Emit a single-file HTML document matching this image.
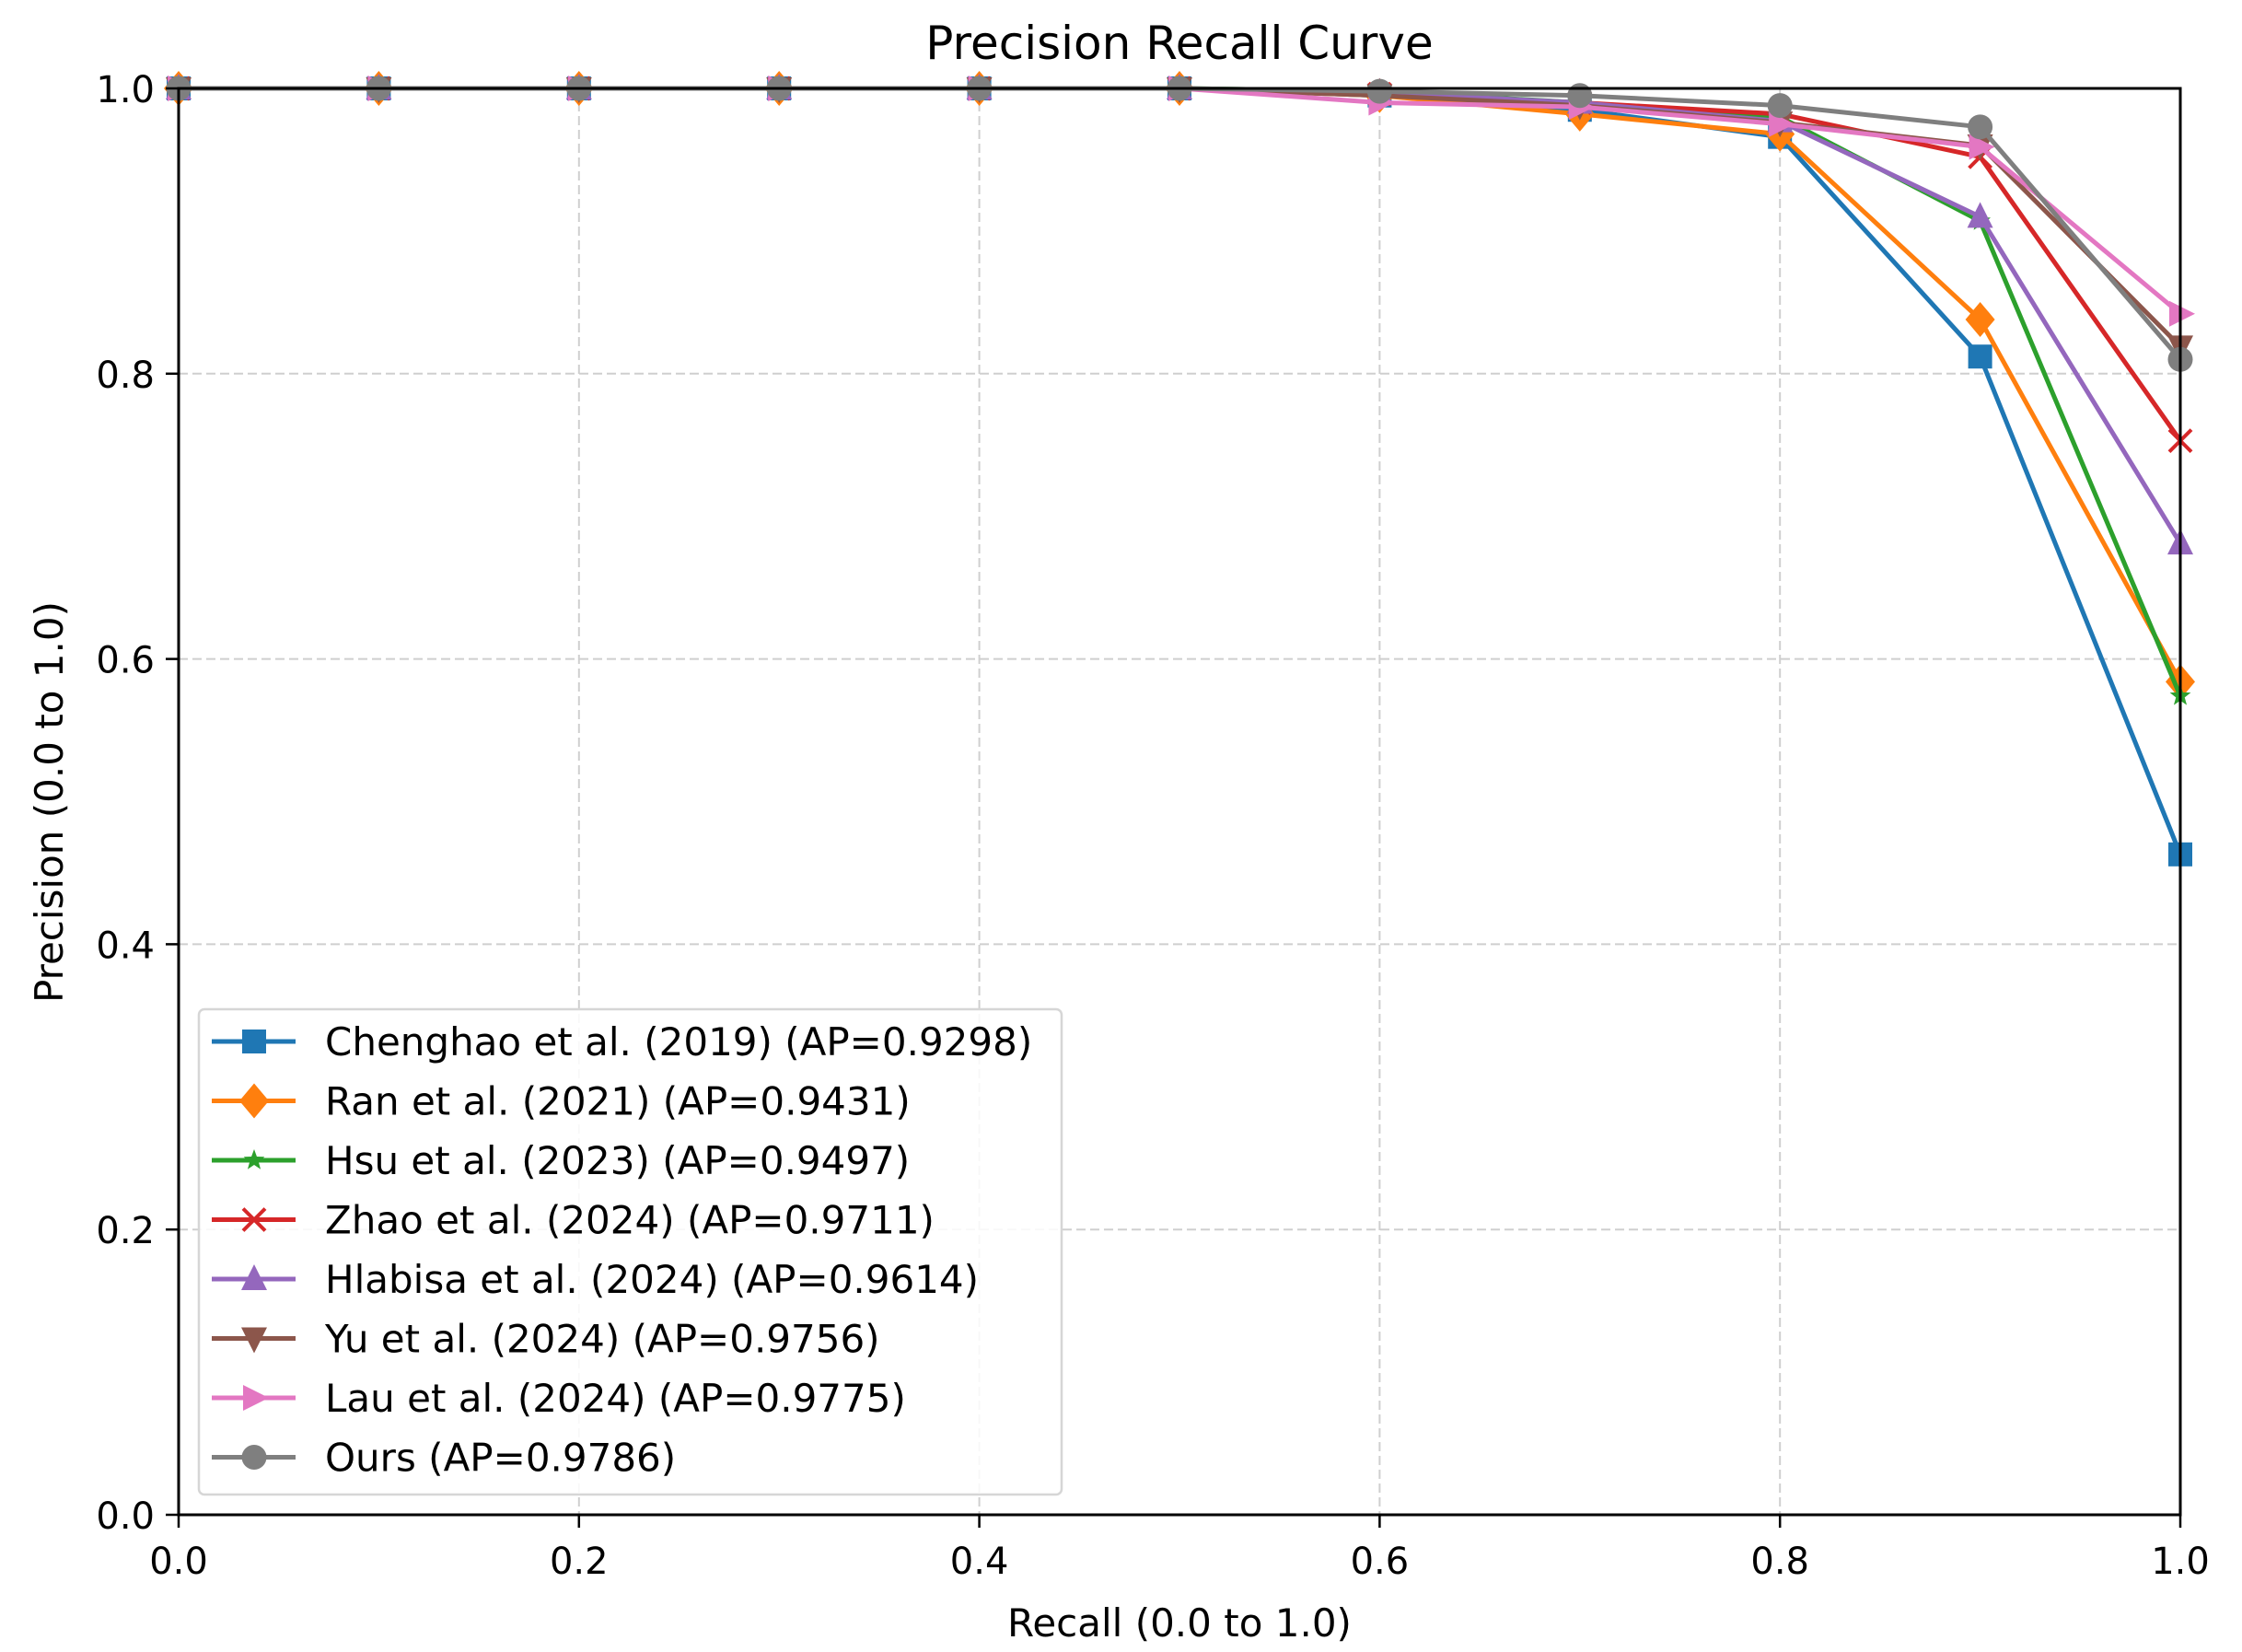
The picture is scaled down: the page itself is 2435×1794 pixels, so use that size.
<!DOCTYPE html>
<html><head><meta charset="utf-8">
<style>
html,body{margin:0;padding:0;background:#fff;}
svg{display:block;font-family:"DejaVu Sans","Liberation Sans",sans-serif;}
</style></head>
<body>
<svg id="chart" width="2435" height="1794" viewBox="0 0 2435 1794" xmlns="http://www.w3.org/2000/svg">
<rect width="2435" height="1794" fill="#fff"/>
<g id="grid"></g>
<g id="series"></g>
<rect x="194" y="96" width="2174" height="1549" fill="none" stroke="#000" stroke-width="3"/>
<g id="ticks"></g>
<text x="1281" y="64" font-size="50" text-anchor="middle">Precision Recall Curve</text>
<text x="1281" y="1777" font-size="42" text-anchor="middle">Recall (0.0 to 1.0)</text>
<text x="0" y="0" font-size="42" text-anchor="middle" transform="translate(68,871) rotate(-90)">Precision (0.0 to 1.0)</text>
<g id="legend"></g>
</svg>
<script>
const recall = [0.0,0.1,0.2,0.3,0.4,0.5,0.6,0.7,0.8,0.9,1.0];
const seriesNames = ["Chenghao et al. (2019) (AP=0.9298)","Ran et al. (2021) (AP=0.9431)","Hsu et al. (2023) (AP=0.9497)","Zhao et al. (2024) (AP=0.9711)","Hlabisa et al. (2024) (AP=0.9614)","Yu et al. (2024) (AP=0.9756)","Lau et al. (2024) (AP=0.9775)","Ours (AP=0.9786)"];
const chenghao = [1,1,1,1,1,1,0.995,0.985,0.966,0.812,0.463];
const ran      = [1,1,1,1,1,1,0.995,0.982,0.968,0.838,0.584];
const hsu      = [1,1,1,1,1,1,0.998,0.99,0.98,0.907,0.574];
const zhao     = [1,1,1,1,1,1,0.996,0.99,0.982,0.952,0.753];
const hlabisa  = [1,1,1,1,1,1,0.997,0.99,0.977,0.91,0.681];
const yu       = [1,1,1,1,1,1,0.995,0.988,0.976,0.96,0.819];
const lau      = [1,1,1,1,1,1,0.99,0.987,0.975,0.959,0.842];
const ours     = [1,1,1,1,1,1,0.998,0.995,0.988,0.973,0.81];
const xTickLabels = ["0.0","0.2","0.4","0.6","0.8","1.0"];
const yTickLabels = ["0.0","0.2","0.4","0.6","0.8","1.0"];

const L=194,R=2368,T=96,B=1645;
const xs=v=>L+(R-L)*v, ys=v=>B-(B-T)*v;
const NS="http://www.w3.org/2000/svg";
function mk(tag,attrs,parent){const e=document.createElementNS(NS,tag);for(const k in attrs)e.setAttribute(k,attrs[k]);parent.appendChild(e);return e;}
const grid=document.getElementById('grid'),ticks=document.getElementById('ticks'),sg=document.getElementById('series'),lg=document.getElementById('legend');

xTickLabels.forEach(t=>{const v=parseFloat(t),x=xs(v);
 const g=mk('line',{x1:x,x2:x,y1:T,y2:B,stroke:'#cfcfcf','stroke-width':2,'stroke-dasharray':'10,5'},grid);
 
 
 const tk=mk('line',{x1:x,x2:x,y1:B,y2:B+14,stroke:'#000','stroke-width':2.5},ticks);
 
 
 const tx=mk('text',{x:x,y:B+64,'font-size':40,'text-anchor':'middle'},ticks);tx.textContent=t;
 
 
});
yTickLabels.forEach(t=>{const v=parseFloat(t),y=ys(v);
 const g=mk('line',{x1:L,x2:R,y1:y,y2:y,stroke:'#cfcfcf','stroke-width':2,'stroke-dasharray':'10,5'},grid);
 
 
 const tk=mk('line',{x1:L-14,x2:L,y1:y,y2:y,stroke:'#000','stroke-width':2.5},ticks);
 
 
 const tx=mk('text',{x:L-26,y:y+15,'font-size':40,'text-anchor':'end'},ticks);tx.textContent=t;
 
 
});

const allSeries=[chenghao,ran,hsu,zhao,hlabisa,yu,lau,ours];
const colors=['#1f77b4','#ff7f0e','#2ca02c','#d62728','#9467bd','#8c564b','#e377c2','#7f7f7f'];
const markers=['s','D','*','x','^','v','>','o'];
function marker(type,x,y,c,p){let e;const s=13;
 if(type==='s')e=mk('rect',{x:x-s,y:y-s,width:2*s,height:2*s,fill:c},p);
 else if(type==='D')e=mk('polygon',{points:`${x},${y-19} ${x+16},${y} ${x},${y+19} ${x-16},${y}`,fill:c},p);
 else if(type==='*'){let pts=[];for(let i=0;i<10;i++){const r=i%2?5:12,a=-Math.PI/2+i*Math.PI/5;pts.push((x+r*Math.cos(a))+','+(y+r*Math.sin(a)));}e=mk('polygon',{points:pts.join(' '),fill:c},p);}
 else if(type==='x')e=mk('path',{d:`M${x-12},${y-12}L${x+12},${y+12}M${x-12},${y+12}L${x+12},${y-12}`,stroke:c,'stroke-width':4,fill:'none'},p);
 else if(type==='^')e=mk('polygon',{points:`${x},${y-16} ${x+14},${y+12} ${x-14},${y+12}`,fill:c},p);
 else if(type==='v')e=mk('polygon',{points:`${x},${y+16} ${x+14},${y-12} ${x-14},${y-12}`,fill:c},p);
 else if(type==='>')e=mk('polygon',{points:`${x+16},${y} ${x-12},${y+14} ${x-12},${y-14}`,fill:c},p);
 else e=mk('circle',{cx:x,cy:y,r:13.5,fill:c},p);
 return e;}

allSeries.forEach((vals,i)=>{
 const g=mk('g',{},sg);
 
 
 const pts=vals.map((v,j)=>xs(recall[j])+','+ys(v)).join(' ');
 const pl=mk('polyline',{points:pts,fill:'none',stroke:colors[i],'stroke-width':5,'stroke-linejoin':'round'},g);
 
 
 vals.forEach((v,j)=>{const m=marker(markers[i],xs(recall[j]),ys(v),colors[i],g);
  
  });
});

const box=mk('rect',{x:216,y:1096,width:937,height:527,rx:6,fill:'#fff','fill-opacity':0.85,stroke:'#d6d6d6','stroke-width':2.5},lg);


seriesNames.forEach((n,i)=>{const y=1131+i*64.5;
 const g=mk('g',{},lg);
 
 
 mk('line',{x1:230,x2:321,y1:y,y2:y,stroke:colors[i],'stroke-width':5},g);
 marker(markers[i],276,y,colors[i],g);
 const t=mk('text',{x:353,y:y+15,'font-size':42},g);t.textContent=n;
 
 
});
</script>
</body></html>
